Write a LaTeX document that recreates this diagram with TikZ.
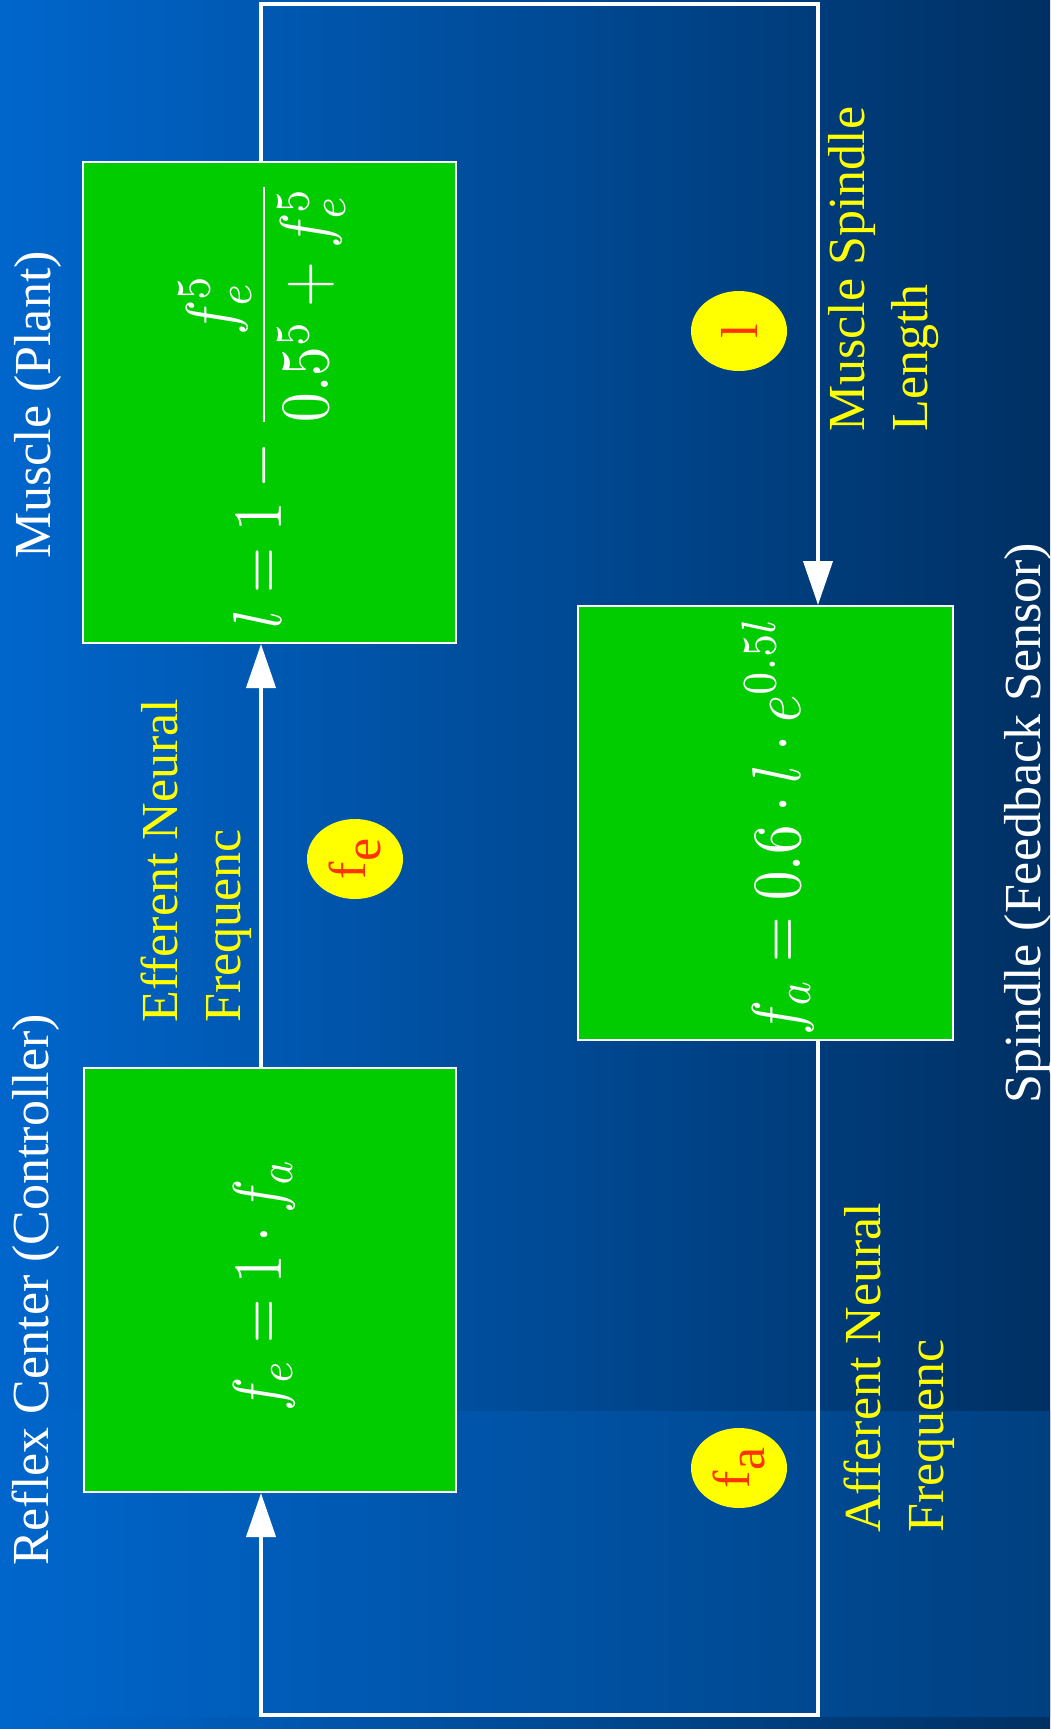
\documentclass[tikz,border=0pt]{standalone}
\usepackage[no-math]{fontspec}
\setmainfont{Liberation Serif}
\usetikzlibrary{arrows.meta,shapes.geometric}
\definecolor{bgL}{RGB}{0,102,204}
\definecolor{bgR}{RGB}{0,48,99}
\definecolor{ovR}{RGB}{0,64,128}
\definecolor{boxgreen}{RGB}{0,204,0}
\definecolor{lblyellow}{RGB}{255,255,0}
\definecolor{tagred}{RGB}{255,51,0}
\begin{document}
\begin{tikzpicture}[x=0.5pt,y=-0.5pt,
  box/.style={draw=white, line width=1pt, fill=boxgreen, inner sep=0pt},
  wire/.style={draw=white, line width=2pt},
  arr/.style={-{Triangle[length=22pt,width=14.5pt]}},
  tag/.style={ellipse, fill=lblyellow, inner sep=0pt, minimum width=40pt, minimum height=48pt, rotate=90, text=tagred, font=\fontsize{26}{30}\selectfont},
  title/.style={rotate=90, anchor=base, text=white, inner sep=0pt, font=\fontsize{26}{30}\selectfont},
  lbl/.style={rotate=90, anchor=base west, text=lblyellow, inner sep=0pt, align=left, font=\fontsize{26}{31.5}\selectfont},
  eq/.style={rotate=90, text=white, inner sep=0pt, font=\fontsize{10}{12}\selectfont}
]
\useasboundingbox (0,0) rectangle (1050,1729);
\shade[left color=bgL, right color=bgR] (0,0) rectangle (1050,1729);
\shade[left color=bgL, right color=ovR] (0,1411) rectangle (1050,1716);

\node[box, minimum width=186.5pt, minimum height=240.5pt] (muscle) at (269.5,402.5) {};
\node[box, minimum width=186pt, minimum height=212pt] (reflex) at (270,1280) {};
\node[box, minimum width=187.5pt, minimum height=217pt] (spindle) at (765.5,823) {};

\coordinate (tl) at (261,4);
\coordinate (tr) at (818,4);
\coordinate (bl) at (261,1715);
\coordinate (br) at (818,1715);

\draw[wire,arr] (muscle.north -| tl) -- (tl) -- (tr) -- (spindle.north -| tr);
\draw[wire,arr] (spindle.south -| br) -- (br) -- (bl) -- (reflex.south -| bl);
\draw[wire,arr] (reflex.north -| bl) -- (muscle.south -| bl);

\node[tag] (tagl) at (739,331) {l};
\node[tag] (tagfe) at (355,859) {f\raisebox{-0.3em}{e}};
\node[tag] (tagfa) at (739,1468) {f\raisebox{-0.3em}{a}};

\node[title] (ttlreflex) at (48,1290) {Reflex Center (Controller)};
\node[title] (ttlmuscle) at (50,405) {Muscle (Plant)};
\node[title] (ttlspindle) at (1040,823) {Spindle (Feedback Sensor)};

\node[lbl] (lbleff) at (240,1023) {Efferent Neural\\Frequenc};
\node[lbl] (lblmsl) at (927,432) {Muscle Spindle\\Length};
\node[lbl] (lblaff) at (943,1533) {Afferent Neural\\Frequenc};

\node[eq] (eqmuscle) at (262,404) {\scalebox{2.95}[3.45]{$l = 1 - \displaystyle\frac{f_e^5}{0.5^5 + f_e^5}$}};
\node[eq] (eqreflex) at (264.5,1285) {\scalebox{2.85}[3.45]{$f_e = 1\cdot f_a$}};
\node[eq] (eqspindle) at (778,826) {\scalebox{2.93}[3.45]{$f_a = 0.6\cdot l\cdot e^{0.5l}$}};
\end{tikzpicture}
\end{document}
